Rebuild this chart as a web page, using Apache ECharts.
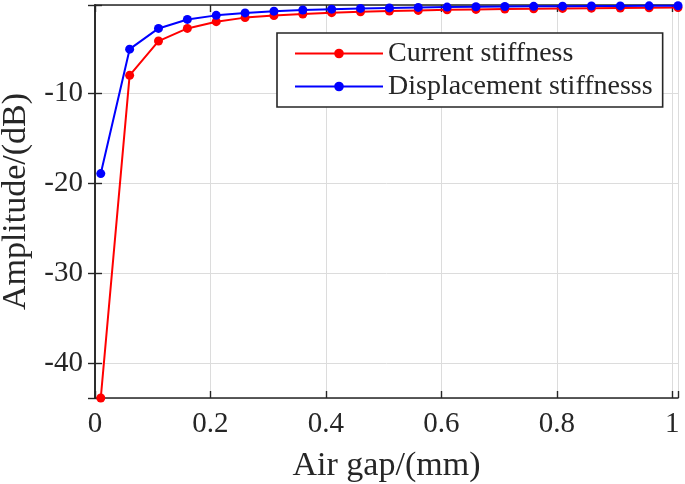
<!DOCTYPE html>
<html>
<head>
<meta charset="utf-8">
<script src="https://cdn.jsdelivr.net/npm/echarts@6/dist/echarts.min.js"></script>
<style>
html,body{margin:0;padding:0;background:#fff;}
#chart{width:685px;height:484px;}
</style>
</head>
<body>
<div id="chart"></div>
<script>
const airGap = [0.01,0.06,0.11,0.16,0.21,0.26,0.31,0.36,0.41,0.46,0.51,0.56,0.61,0.66,0.71,0.76,0.81,0.86,0.91,0.96,1.01];
const currentStiffness = [-43.8,-8.0,-4.2,-2.8,-2.05,-1.6,-1.37,-1.2,-1.05,-0.95,-0.87,-0.8,-0.74,-0.69,-0.65,-0.61,-0.58,-0.55,-0.53,-0.51,-0.49];
const displacementStiffness = [-18.9,-5.1,-2.8,-1.8,-1.35,-1.08,-0.88,-0.75,-0.66,-0.58,-0.52,-0.47,-0.43,-0.4,-0.37,-0.35,-0.33,-0.31,-0.3,-0.29,-0.28];
const xTicks = [0,0.2,0.4,0.6,0.8,1];
const yTicks = [-40,-30,-20,-10];
const seriesNames = ['Current stiffness','Displacement stiffnesss'];
const xTitle = 'Air gap/(mm)';
const yTitle = 'Amplitude/(dB)';

const FONT = '"Liberation Serif", "Times New Roman", serif';
const TXT = '#262626';
const near = (v, arr) => arr.some(t => Math.abs(t - v) < 1e-6);

const chart = echarts.init(document.getElementById('chart'), null, {renderer:'canvas'});
const frameLine = {show:true, lineStyle:{color:TXT, width:1.6}};
chart.setOption({
  animation:false,
  backgroundColor:'#fff',
  grid:{left:95, right:7, top:5, bottom:86, containLabel:false, outerBoundsMode:'none'},
  legend:{
    orient:'vertical', left:277, top:33,
    data:seriesNames,
    backgroundColor:'#fff', borderColor:TXT, borderWidth:1.6, borderRadius:0,
    padding:[4,10,4,17], itemGap:0, itemWidth:88, itemHeight:12,
    textStyle:{fontFamily:FONT, fontSize:28, color:TXT, lineHeight:33}
  },
  xAxis:[{
    type:'value', min:0, max:1.01, interval:0.2, position:'bottom',
    name:xTitle, nameLocation:'middle', nameGap:51,
    nameTextStyle:{fontFamily:FONT, fontSize:34, color:TXT},
    axisLine:frameLine,
    axisTick:{show:true, inside:true, length:7, lineStyle:{color:TXT, width:1.4}},
    axisLabel:{margin:12, fontFamily:FONT, fontSize:29, color:TXT,
      formatter:v => near(v, xTicks) ? String(+v.toFixed(1)) : ''},
    splitLine:{show:true, lineStyle:{color:'#dcdcdc', width:1}}
  },{
    type:'value', min:0, max:1.01, interval:0.2, position:'top',
    axisLine:frameLine,
    axisTick:{show:true, inside:true, length:7, lineStyle:{color:TXT, width:1.4}},
    axisLabel:{show:false}, splitLine:{show:false}
  }],
  yAxis:[{
    type:'value', min:-43.8, max:-0.2, splitNumber:4, position:'left',
    name:yTitle, nameLocation:'middle', nameGap:58, nameRotate:90,
    nameTextStyle:{fontFamily:FONT, fontSize:34, color:TXT},
    axisLine:frameLine,
    axisTick:{show:true, inside:true, length:7, lineStyle:{color:TXT, width:1.4}},
    axisLabel:{margin:12, fontFamily:FONT, fontSize:29, color:TXT,
      formatter:v => near(v, yTicks) ? String(Math.round(v)) : ''},
    splitLine:{show:true, lineStyle:{color:'#dcdcdc', width:1}}
  },{
    type:'value', min:-43.8, max:-0.2, splitNumber:4, position:'right',
    axisLine:frameLine,
    axisTick:{show:true, inside:true, length:7, lineStyle:{color:TXT, width:1.4}},
    axisLabel:{show:false}, splitLine:{show:false}
  }],
  series:[{
    name:seriesNames[0], type:'line',
    data:airGap.map((x,i)=>[x,currentStiffness[i]]),
    itemStyle:{color:'#ff0000'}, lineStyle:{color:'#ff0000', width:2},
    symbol:'circle', symbolSize:9, z:3
  },{
    name:seriesNames[1], type:'line',
    data:airGap.map((x,i)=>[x,displacementStiffness[i]]),
    itemStyle:{color:'#0000ff'}, lineStyle:{color:'#0000ff', width:2},
    symbol:'circle', symbolSize:9, z:4
  }]
});
</script>
</body>
</html>
